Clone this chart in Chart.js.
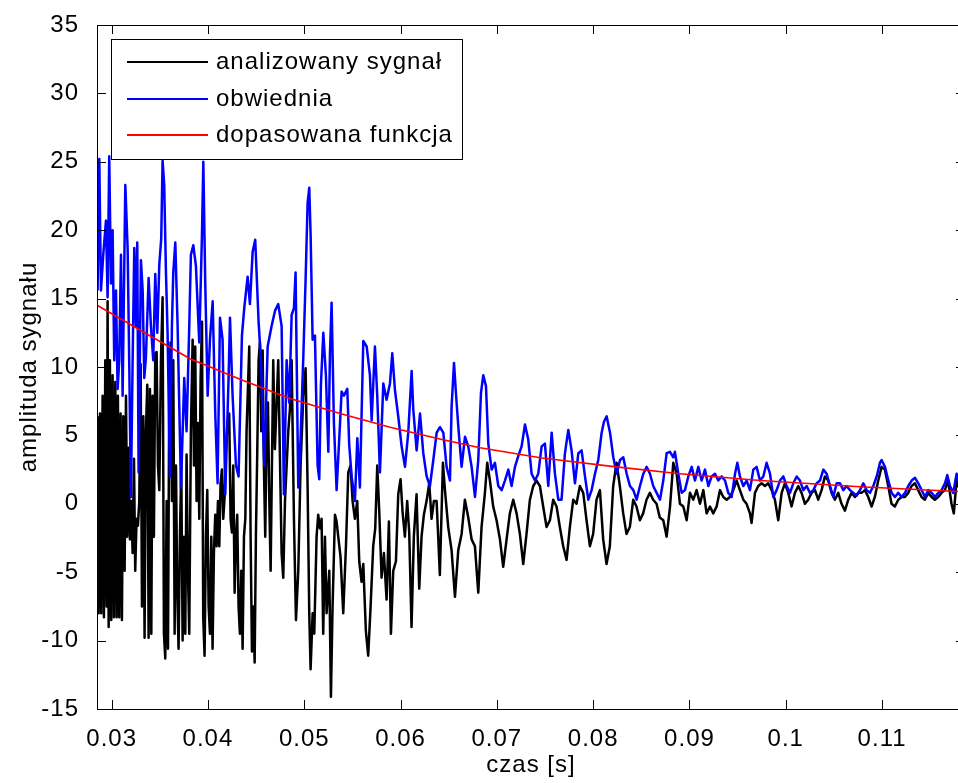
<!DOCTYPE html>
<html>
<head>
<meta charset="utf-8">
<script src="https://cdn.jsdelivr.net/npm/chart.js"></script>
<style>
  html, body { margin: 0; padding: 0; background: #fff; overflow: hidden; }
  #wrap { position: relative; width: 970px; height: 783px; }
</style>
</head>
<body>
<div id="wrap"><canvas id="wykres" width="970" height="783"></canvas></div>
<script>
// czas [s] i wartosci
const czasSygnalu = [
  0.02854,0.02865,0.02879,0.02892,0.02906,0.02920,0.02934,0.02948,0.02958,0.02969,
  0.02982,0.02996,0.03010,0.03024,0.03038,0.03052,0.03065,0.03079,0.03093,0.03107,
  0.03121,0.03135,0.03149,0.03162,0.03176,0.03190,0.03204,0.03218,0.03232,0.03245,
  0.03259,0.03273,0.03287,0.03301,0.03315,0.03329,0.03342,0.03356,0.03370,0.03384,
  0.03398,0.03412,0.03425,0.03439,0.03453,0.03467,0.03481,0.03495,0.03512,0.03529,
  0.03543,0.03557,0.03571,0.03585,0.03598,0.03612,0.03626,0.03640,0.03654,0.03668,
  0.03681,0.03695,0.03709,0.03723,0.03737,0.03751,0.03765,0.03778,0.03792,0.03806,
  0.03823,0.03841,0.03855,0.03868,0.03882,0.03896,0.03910,0.03924,0.03938,0.03951,
  0.03965,0.03979,0.03993,0.04007,0.04021,0.04035,0.04048,0.04062,0.04076,0.04090,
  0.04104,0.04118,0.04131,0.04145,0.04159,0.04173,0.04187,0.04204,0.04221,0.04235,
  0.04249,0.04263,0.04277,0.04291,0.04304,0.04318,0.04332,0.04346,0.04360,0.04374,
  0.04388,0.04401,0.04415,0.04429,0.04443,0.04457,0.04471,0.04485,0.04498,0.04512,
  0.04526,0.04540,0.04554,0.04568,0.04581,0.04595,0.04609,0.04623,0.04637,0.04651,
  0.04678,0.04695,0.04730,0.04765,0.04782,0.04800,0.04834,0.04851,0.04869,0.04893,
  0.04914,0.04938,0.04962,0.04990,0.05014,0.05035,0.05052,0.05066,0.05087,0.05104,
  0.05128,0.05145,0.05163,0.05180,0.05197,0.05215,0.05232,0.05260,0.05277,0.05294,
  0.05319,0.05336,0.05353,0.05377,0.05405,0.05433,0.05457,0.05481,0.05502,0.05526,
  0.05550,0.05571,0.05595,0.05613,0.05640,0.05664,0.05689,0.05716,0.05737,0.05758,
  0.05779,0.05803,0.05827,0.05855,0.05879,0.05900,0.05924,0.05952,0.05976,0.06000,
  0.06021,0.06045,0.06069,0.06090,0.06114,0.06138,0.06166,0.06194,0.06218,0.06242,
  0.06270,0.06298,0.06322,0.06346,0.06374,0.06391,0.06408,0.06440,
  0.06461,0.06495,0.06530,0.06565,0.06599,0.06634,0.06668,0.06703,0.06738,0.06772,
  0.06807,0.06841,0.06876,0.06900,0.06928,0.06962,0.06997,0.07032,0.07066,0.07101,
  0.07135,0.07170,0.07205,0.07239,0.07274,0.07308,0.07343,0.07378,0.07412,0.07447,
  0.07481,0.07516,0.07551,0.07585,0.07620,0.07654,0.07689,0.07724,0.07758,0.07793,
  0.07827,0.07862,0.07897,0.07931,0.07966,0.08000,0.08035,0.08070,0.08104,0.08139,
  0.08173,0.08208,0.08243,0.08277,0.08312,0.08346,0.08381,0.08416,0.08450,0.08485,
  0.08519,0.08554,0.08589,0.08623,0.08658,0.08692,
  0.08728,0.08763,0.08798,0.08832,0.08867,0.08901,0.08936,0.08971,0.09005,0.09040,
  0.09074,0.09109,0.09144,0.09178,0.09213,0.09247,0.09282,0.09317,0.09351,0.09386,
  0.09420,0.09455,0.09490,0.09524,0.09559,0.09593,0.09628,0.09645,0.09680,0.09714,
  0.09749,0.09784,0.09818,0.09853,0.09887,0.09922,0.09957,0.09991,0.10026,0.10060,
  0.10095,0.10130,0.10164,0.10199,0.10233,0.10268,0.10303,0.10337,0.10372,0.10406,
  0.10441,0.10476,0.10510,0.10545,0.10579,0.10614,0.10649,0.10683,0.10718,0.10752,
  0.10787,0.10822,0.10856,0.10891,0.10925,0.10960,0.10995,0.11029,0.11064,0.11098,
  0.11133,0.11168,0.11202,0.11237,0.11271,0.11306,0.11341,0.11375,0.11410,0.11444,
  0.11479,0.11514,0.11548,0.11583,0.11617,0.11652,0.11686,0.11721,0.11745,0.11773,
  0.11790,0.11860
];
const sygnal = [
  6.4,-8.0,6.6,-8.0,7.9,-8.3,10.5,-7.5,14.8,-9.0,
  10.5,-8.5,9.4,-8.3,8.9,-8.3,7.9,-8.3,6.6,-8.5,
  6.4,-4.9,7.9,-2.4,4.1,-2.6,0.2,-3.6,3.3,-4.9,
  -1.1,-1.6,0.2,10.2,-7.5,6.4,-9.8,5.3,8.7,-9.8,
  8.4,-9.5,7.9,-2.4,11.0,11.1,2.8,1.0,10.5,15.1,
  -9.5,-11.3,0.2,-10.6,7.9,11.8,0.2,10.5,-9.5,2.8,
  -6.2,-10.6,-2.4,2.8,-10.0,-2.4,-9.5,3.6,-4.9,-9.5,
  5.3,12.0,2.8,11.5,0.2,5.9,-1.1,9.2,13.3,-8.3,
  -11.1,-2.4,1.0,-7.5,-9.5,-2.4,-10.6,-3.6,-0.8,-3.1,
  0.2,-3.1,1.5,2.5,-1.1,0.5,4.1,5.9,6.6,-1.1,
  -2.1,2.8,-6.5,-2.4,-0.8,-7.5,-9.5,-4.9,-10.6,-2.4,
  -1.1,5.3,8.4,11.5,-2.4,-10.8,-7.5,-11.6,-2.4,3.8,
  10.5,11.8,5.3,11.2,2.8,-2.4,5.3,7.4,0.2,-4.9,
  10.5,4.0,10.5,-3.6,-5.4,0.2,5.3,6.9,10.5,-1.1,
  -8.5,-4.9,2.8,7.9,9.9,1.2,-8.0,-12.1,-8.0,-9.5,
  -2.4,-0.8,-1.8,-1.1,-9.5,-2.4,-8.0,-4.9,-14.1,-7.5,
  -0.8,-1.3,-2.4,-3.9,-8.0,-3.1,2.3,2.8,0.2,-1.1,
  0.2,-4.2,-5.7,-4.4,-9.3,-11.1,-7.5,-3.1,-1.8,2.8,
  -0.6,-5.4,-3.6,-7.0,-1.3,-9.5,-4.9,-4.2,0.7,1.8,
  -0.6,-2.4,0.2,-2.1,-9.0,-2.4,0.7,-6.2,-2.4,-0.8,
  0.2,1.5,-1.1,0.2,0.2,-2.4,-5.2,3.0,
  1.0,-1.7,-3.4,-6.8,-3.4,-2.2,0.3,-1.0,-2.6,-3.1,
  -6.5,-1.7,0.8,3.0,1.7,-0.2,-1.2,-2.6,-4.6,-2.6,
  -0.7,0.3,-0.7,-2.2,-4.4,-2.2,0.3,1.3,1.7,1.3,
  -0.2,-1.7,-1.2,0.3,-0.2,-1.7,-3.1,-4.1,-1.7,0.3,
  0.0,1.3,0.8,-1.2,-3.1,-2.2,0.3,1.0,-2.6,-4.4,
  -3.1,1.3,3.0,1.3,-0.7,-2.2,-1.7,0.3,-0.2,-1.2,
  -0.7,0.3,0.8,0.3,0.0,-1.0,
  -1.2,-2.4,-0.2,3.0,2.2,0.0,-0.2,-1.2,0.8,0.3,
  1.0,0.0,1.0,-0.7,-0.2,-0.7,-0.2,1.0,0.5,0.3,
  0.5,1.0,1.7,1.0,0.3,0.0,-0.7,-1.4,0.8,1.3,
  1.5,1.3,1.5,1.0,0.3,-1.2,0.8,1.5,0.8,-0.2,
  0.8,1.3,0.8,0.0,0.3,0.8,1.0,0.3,1.0,2.0,
  1.7,0.8,0.3,0.8,0.0,-0.5,0.3,0.8,0.5,0.8,
  0.8,1.0,0.5,-0.2,0.5,1.7,2.7,2.5,1.3,0.0,
  -0.2,0.3,0.5,0.5,0.8,1.3,1.5,1.0,0.5,0.3,
  0.8,0.5,0.3,0.5,0.8,1.0,1.7,0.0,-0.7,1.7,
  1.3,0.6
];

const czasObwiedni = [
  0.02854,0.02872,0.02889,0.02913,0.02941,0.02958,0.02975,0.02993,0.03010,0.03027,
  0.03045,0.03062,0.03079,0.03097,0.03114,0.03142,0.03166,0.03183,0.03200,0.03218,
  0.03235,0.03252,0.03266,0.03280,0.03304,0.03322,0.03339,0.03356,0.03384,0.03408,
  0.03432,0.03453,0.03474,0.03495,0.03515,0.03529,0.03546,0.03564,0.03581,0.03605,
  0.03626,0.03640,0.03661,0.03685,0.03720,0.03754,0.03778,0.03806,0.03823,0.03848,
  0.03875,0.03910,0.03938,0.03952,0.03972,0.03997,0.04021,0.04049,0.04076,0.04100,
  0.04125,0.04152,0.04180,0.04215,0.04229,0.04256,0.04291,0.04318,0.04353,0.04377,
  0.04412,0.04436,0.04464,0.04491,0.04526,0.04550,0.04585,0.04620,
  0.04661,0.04696,0.04730,0.04765,0.04789,0.04817,0.04844,0.04869,0.04893,0.04910,
  0.04938,0.04962,0.04990,0.05014,0.05035,0.05052,0.05066,0.05087,0.05111,0.05139,
  0.05156,0.05173,0.05198,0.05225,0.05250,0.05267,0.05284,0.05308,0.05336,0.05360,
  0.05388,0.05412,0.05447,0.05467,0.05492,0.05526,0.05551,0.05578,0.05613,0.05648,
  0.05682,0.05700,0.05734,0.05758,0.05786,
  0.05821,0.05855,0.05890,0.05914,0.05942,0.05976,0.06011,0.06046,0.06080,0.06115,
  0.06132,0.06167,0.06202,0.06236,0.06271,0.06305,0.06340,0.06375,0.06409,0.06444,
  0.06478,0.06513,0.06530,0.06555,0.06575,0.06600,0.06634,0.06669,0.06703,0.06738,
  0.06773,0.06807,0.06835,0.06859,0.06887,0.06911,0.06946,0.06980,0.07015,0.07050,
  0.07084,0.07119,0.07153,0.07188,0.07223,0.07257,0.07292,0.07326,0.07361,0.07396,
  0.07430,0.07465,0.07499,0.07534,0.07569,0.07603,0.07638,0.07672,0.07707,0.07742,
  0.07776,0.07811,0.07846,0.07880,0.07915,0.07950,0.07984,0.08019,0.08053,0.08088,
  0.08112,0.08140,0.08175,0.08209,0.08244,0.08279,0.08313,0.08348,0.08382,0.08417,
  0.08451,0.08486,0.08521,0.08555,0.08590,0.08624,0.08659,0.08694,0.08728,0.08763,
  0.08798,0.08832,
  0.08849,0.08884,0.08919,0.08953,0.08988,0.09023,0.09057,0.09092,0.09126,0.09161,
  0.09196,0.09230,0.09265,0.09299,0.09334,0.09369,0.09403,0.09438,0.09473,0.09497,
  0.09524,0.09559,0.09594,0.09628,0.09663,0.09697,0.09732,0.09767,0.09801,0.09836,
  0.09871,0.09905,0.09940,0.09974,0.10009,0.10044,0.10078,0.10113,0.10147,0.10182,
  0.10217,0.10251,0.10286,0.10321,0.10355,0.10390,0.10424,0.10459,0.10494,0.10528,
  0.10563,0.10597,0.10632,0.10667,0.10701,0.10736,0.10770,0.10805,0.10840,0.10874,
  0.10909,0.10944,0.10978,0.10995,0.11030,0.11065,0.11099,0.11134,0.11168,0.11203,
  0.11238,0.11272,0.11307,0.11342,0.11376,0.11411,0.11445,0.11480,0.11515,0.11549,
  0.11584,0.11618,0.11653,0.11677,0.11705,0.11739,0.11774,0.11791,0.11860
];
const obwiednia = [
  15.6,25.2,15.6,18.2,20.7,15.1,25.4,16.1,20.0,10.5,
  15.6,8.4,10.5,18.2,7.9,23.3,18.7,10.2,0.5,10.5,
  18.7,13.0,19.1,2.3,17.8,15.6,9.2,10.7,16.5,13.0,
  10.5,16.8,12.5,17.5,19.4,25.1,23.3,16.9,12.5,2.0,
  13.0,16.9,19.1,13.0,1.2,9.2,5.3,13.0,18.2,18.9,
  17.4,11.8,19.7,25.0,16.1,7.9,12.0,14.8,6.6,1.5,
  13.6,12.0,0.7,9.4,13.6,7.9,2.8,2.0,12.3,14.3,
  16.6,14.6,18.4,19.3,13.3,10.5,2.8,11.5,
  13.0,14.1,14.6,13.0,0.7,10.5,7.4,13.8,14.3,16.9,
  1.2,4.8,10.7,16.4,22.0,23.1,19.7,12.0,12.3,2.8,
  1.8,8.7,12.5,9.4,3.8,11.0,14.7,5.9,1.0,4.3,
  8.2,7.9,8.4,4.3,2.0,0.2,4.8,1.2,11.9,11.5,
  9.4,6.1,11.5,7.9,2.3,
  8.8,7.6,8.8,11.0,8.3,6.4,4.2,2.7,5.2,9.7,
  6.9,3.9,6.6,3.7,2.0,1.3,3.2,5.2,5.6,5.2,
  2.7,1.7,7.1,10.3,8.1,5.6,2.7,4.9,4.2,2.7,
  0.5,3.2,8.1,9.4,8.6,4.4,2.5,3.0,1.3,1.0,
  1.7,2.5,1.3,2.7,3.5,4.2,5.8,4.7,2.2,1.7,
  2.2,4.2,4.4,1.3,5.2,2.2,0.3,0.3,3.7,5.4,
  3.9,1.5,3.7,3.9,2.0,0.3,1.0,2.2,3.2,5.2,
  6.0,6.4,5.2,3.4,2.2,3.2,3.4,2.2,1.3,1.0,
  0.3,1.3,2.2,2.7,2.2,1.3,0.8,0.3,1.7,3.7,
  3.8,3.4,
  3.8,2.2,0.8,1.0,2.0,2.7,1.7,2.7,1.7,2.5,
  1.3,2.0,2.2,1.7,2.0,1.7,0.8,0.5,2.2,3.0,
  2.0,1.3,1.7,1.0,2.5,2.7,1.7,2.0,3.0,2.2,
  0.5,1.0,1.7,2.0,1.3,0.8,1.5,2.0,1.7,1.0,
  1.3,0.8,1.0,1.5,1.7,2.5,2.2,1.3,0.5,1.5,
  1.5,1.0,1.3,1.0,0.8,0.6,1.0,1.5,1.0,0.8,
  1.3,2.0,3.0,3.2,2.7,1.7,0.8,0.5,0.8,0.5,
  0.8,1.3,1.7,1.9,1.5,1.0,0.5,1.0,0.8,0.5,
  0.8,1.0,1.5,2.1,1.3,0.8,2.2,1.7,1.2
];

const czasFunkcji = [0.02854, 0.03294, 0.03814, 0.04333, 0.04852, 0.05372, 0.05891, 0.06430,
  0.06826, 0.07467, 0.08237, 0.08902, 0.09733, 0.10771, 0.11788];
const funkcja = [14.5, 12.7, 10.6, 9.1, 7.7, 6.6, 5.6, 4.7, 4.1, 3.35, 2.7, 2.2, 1.7, 1.25, 0.9];

const tickiX = [0.03, 0.04, 0.05, 0.06, 0.07, 0.08, 0.09, 0.1, 0.11];
const etykietyX = ['0.03', '0.04', '0.05', '0.06', '0.07', '0.08', '0.09', '0.1', '0.11'];
const tickiY = [-15, -10, -5, 0, 5, 10, 15, 20, 25, 30, 35];
const etykietyY = ['-15', '-10', '-5', '0', '5', '10', '15', '20', '25', '30', '35'];

const nazwySerii = ['analizowany sygnał', 'obwiednia', 'dopasowana funkcja'];
const koloryserii = ['#000000', '#0000ff', '#ff0000'];

const czcionka = {family: '"Liberation Sans", Arial, sans-serif', size: 24};

var punkty = function (xs, ys) {
    return xs.map(function (x, i) { return {x: x, y: ys[i]}; });
};

// ramka osi, znaczniki do srodka (jak w matlabie) i legenda
var ramka = {
    id: 'ramka',
    beforeDraw: function (chart) {
        chart.ctx.letterSpacing = '1px';
    },
    afterDraw: function (chart) {
        var ctx = chart.ctx;
        var a = chart.chartArea;
        var sx = chart.scales.x, sy = chart.scales.y;
        ctx.save();
        ctx.strokeStyle = '#000';
        ctx.lineWidth = 1;
        ctx.beginPath();
        tickiX.forEach(function (v) {
            var p = Math.round(sx.getPixelForValue(v)) + 0.5;
            ctx.moveTo(p, a.bottom); ctx.lineTo(p, a.bottom - 9);
            ctx.moveTo(p, a.top); ctx.lineTo(p, a.top + 9);
        });
        tickiY.forEach(function (v) {
            var p = Math.round(sy.getPixelForValue(v)) + 0.5;
            ctx.moveTo(a.left, p); ctx.lineTo(a.left + 9, p);
            ctx.moveTo(a.right, p); ctx.lineTo(a.right - 9, p);
        });
        ctx.stroke();
        ctx.strokeRect(a.left + 0.5, a.top + 0.5, a.right - a.left, a.bottom - a.top);

        // legenda
        var lx = a.left + 14, ly = a.top + 14;
        ctx.fillStyle = '#fff';
        ctx.fillRect(lx, ly, 351, 120);
        ctx.strokeRect(lx + 0.5, ly + 0.5, 351, 120);
        ctx.font = czcionka.size + 'px ' + czcionka.family;
        ctx.letterSpacing = '1px';
        ctx.textBaseline = 'middle';
        ctx.textAlign = 'left';
        ctx.lineWidth = 2;
        var wiersze = [23, 60, 96];
        nazwySerii.forEach(function (nazwa, i) {
            var yy = ly + wiersze[i];
            ctx.strokeStyle = koloryserii[i];
            ctx.beginPath();
            ctx.moveTo(lx + 16, yy);
            ctx.lineTo(lx + 97, yy);
            ctx.stroke();
            ctx.fillStyle = '#000';
            ctx.fillText(nazwa, lx + 105, ly + wiersze[i]);
        });
        ctx.restore();
    }
};

var ctx = document.getElementById('wykres').getContext('2d');
var chart = new Chart(ctx, {
    type: 'line',
    data: {
        datasets: [{
            label: nazwySerii[0],
            data: punkty(czasSygnalu, sygnal),
            borderColor: koloryserii[0],
            borderWidth: 2.5,
            order: 3
        }, {
            label: nazwySerii[1],
            data: punkty(czasObwiedni, obwiednia),
            borderColor: koloryserii[1],
            borderWidth: 2.5,
            order: 2
        }, {
            label: nazwySerii[2],
            data: punkty(czasFunkcji, funkcja),
            borderColor: koloryserii[2],
            borderWidth: 1.6,
            order: 1
        }]
    },
    options: {
        responsive: false,
        animation: false,
        devicePixelRatio: 1,
        events: [],
        layout: {padding: {left: 0, top: 25, right: 5, bottom: 0}},
        elements: {
            point: {radius: 0},
            line: {tension: 0, borderJoinStyle: 'round', fill: false}
        },
        plugins: {legend: {display: false}, tooltip: {enabled: false}},
        scales: {
            x: {
                type: 'linear',
                min: 0.02848,
                max: 0.11861,
                grid: {display: false},
                border: {display: false},
                afterBuildTicks: function (s) { s.ticks = tickiX.map(function (v) { return {value: v}; }); },
                afterFit: function (s) { s.height = 74; },
                ticks: {
                    color: '#000', font: czcionka, padding: 8, autoSkip: false, maxRotation: 0,
                    callback: function (v, i) { return etykietyX[i]; }
                },
                title: {display: true, text: 'czas [s]', color: '#000', font: czcionka, padding: {top: 0, bottom: 3}}
            },
            y: {
                type: 'linear',
                min: -15,
                max: 35,
                grid: {display: false},
                border: {display: false},
                afterBuildTicks: function (s) { s.ticks = tickiY.map(function (v) { return {value: v}; }); },
                afterFit: function (s) { s.width = 97; },
                ticks: {
                    color: '#000', font: czcionka, padding: 10,
                    callback: function (v, i) { return etykietyY[i]; }
                },
                title: {display: true, text: 'amplituda sygnału', color: '#000', font: czcionka, padding: {top: 15, bottom: 0}}
            }
        }
    },
    plugins: [ramka]
});
</script>
</body>
</html>
